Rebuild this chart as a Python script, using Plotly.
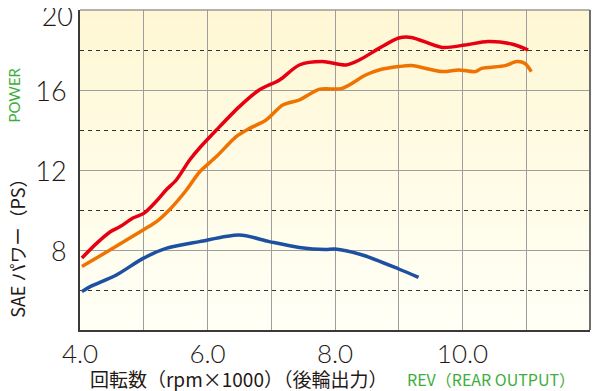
import plotly.graph_objects as go

# RPM (x1000) and SAE power (PS)
red_x = [4.03, 4.26, 4.47, 4.63, 4.83, 5.0, 5.2, 5.35, 5.51, 5.72, 5.875, 6.14, 6.5, 6.81, 7.13, 7.44, 7.8, 8.17, 8.38, 8.69, 9.0, 9.2, 9.68, 10.04, 10.4, 10.77, 11.03]
red_y = [7.6, 8.33, 8.9, 9.17, 9.6, 9.83, 10.45, 11.0, 11.5, 12.5, 13.1, 14.0, 15.17, 16.0, 16.5, 17.25, 17.42, 17.25, 17.5, 18.08, 18.6, 18.63, 18.13, 18.25, 18.42, 18.3, 18.0]

orange_x = [4.03, 4.47, 4.99, 5.2, 5.4, 5.67, 5.875, 6.14, 6.45, 6.66, 6.92, 7.18, 7.44, 7.75, 8.11, 8.48, 8.69, 9.0, 9.2, 9.68, 9.94, 10.2, 10.3, 10.67, 10.85, 10.98, 11.08]
orange_y = [7.17, 8.0, 9.0, 9.42, 10.0, 11.0, 11.9, 12.67, 13.67, 14.08, 14.5, 15.25, 15.5, 16.03, 16.08, 16.75, 17.0, 17.17, 17.22, 16.92, 17.0, 16.92, 17.08, 17.22, 17.42, 17.33, 16.92]

blue_x = [4.03, 4.16, 4.57, 4.99, 5.35, 5.875, 6.5, 6.97, 7.44, 7.85, 8.0, 8.43, 9.0, 9.31]
blue_y = [5.92, 6.17, 6.75, 7.58, 8.08, 8.42, 8.75, 8.42, 8.13, 8.03, 8.05, 7.75, 7.05, 6.63]

x_tickvals = [4, 6, 8, 10]
x_ticktext = ["4.0", "6.0", "8.0", "10.0"]
y_tickvals = [8, 12, 16]
y_ticktext = ["8", "12", "16"]
y_top_tickvals = [20]
y_top_ticktext = ["20"]

TXT = "#231815"
GREEN = "#3DAE3A"
FONT = "Lato"
JP = "Noto Sans CJK JP"

fig = go.Figure()
for xs, ys, col, ya in [(blue_x, blue_y, "#1E50A2", "y"), (orange_x, orange_y, "#EF7300", "y"),
                        (red_x, red_y, "#E60012", "y2")]:
    fig.add_trace(go.Scatter(x=xs, y=ys, mode="lines", yaxis=ya,
                             line=dict(color=col, width=3.5, shape="spline", smoothing=0.8),
                             showlegend=False, hoverinfo="skip"))

# background gradient (light yellow top -> near white bottom)
n = 40
shapes = []
top = (255, 247, 212)
bot = (255, 255, 246)
for i in range(n):
    t = i / (n - 1)
    c = tuple(round(top[k] + (bot[k] - top[k]) * t) for k in range(3))
    shapes.append(dict(type="rect", xref="x domain", yref="y domain",
                       x0=0, x1=1, y0=1 - (i + 1) / n, y1=1 - i / n + 0.002,
                       fillcolor="rgb(%d,%d,%d)" % c, line=dict(width=0), layer="below"))
# borders
shapes.append(dict(type="line", xref="x domain", yref="y domain", x0=0, x1=1, y0=1, y1=1,
                   line=dict(color="#9a9a9a", width=1.5), layer="above"))
shapes.append(dict(type="line", xref="x domain", yref="y domain", x0=1, x1=1, y0=0, y1=1,
                   line=dict(color="#6e6e6e", width=2), layer="above"))

tickfont = dict(family=FONT, size=27, color=TXT, weight=300)

# page body has an 8px margin: figure sized to fill the rest of the 600x391 window
fig.update_layout(
    width=592, height=383,
    margin=dict(l=72, r=10, t=2, b=61),
    paper_bgcolor="white", plot_bgcolor="white",
    shapes=shapes,
    xaxis=dict(range=[4, 12], tickvals=x_tickvals, ticktext=x_ticktext, automargin=False,
               showgrid=True, gridcolor="#9e9e9e", gridwidth=1.2,
               minor=dict(dtick=1, tick0=4, showgrid=True, gridcolor="#9e9e9e", gridwidth=1.2),
               showline=True, linecolor="#3a3a3a", linewidth=2, zeroline=False,
               ticks="", tickfont=dict(family=FONT, size=26, color=TXT, weight=300),
               ticklabelstandoff=0, ticklabeloverflow="allow"),
    yaxis=dict(range=[4, 20], tickvals=y_tickvals, ticktext=y_ticktext, automargin=False,
               showgrid=True, gridcolor="#9e9e9e", gridwidth=1.2,
               minor=dict(dtick=2, tick0=4, showgrid=True, gridcolor="#333333", gridwidth=1,
                          griddash="4px,4px"),
               showline=True, linecolor="#3a3a3a", linewidth=2, zeroline=False,
               ticks="", tickfont=tickfont, ticklabelshift=2,
               ticklabelstandoff=6, ticklabeloverflow="allow"),
    yaxis2=dict(range=[4, 20], tickvals=y_top_tickvals, ticktext=y_top_ticktext, automargin=False,
                overlaying="y", side="left", showgrid=False, zeroline=False, showline=False,
                ticks="", tickfont=tickfont, ticklabelshift=7,
                ticklabelstandoff=6, ticklabeloverflow="allow"),
    annotations=[
        dict(text="SAE パワー（PS）", xref="paper", yref="paper", x=-0.125, y=0.27,
             showarrow=False, textangle=-90, xanchor="center", yanchor="middle",
             font=dict(family=JP, size=18, color=TXT)),
        dict(text="POWER", xref="paper", yref="paper", x=-0.13, y=0.735,
             showarrow=False, textangle=-90, xanchor="center", yanchor="middle",
             font=dict(family=FONT, size=15, color=GREEN)),
        dict(text="回転数（rpm×1000）（後輪出力）", xref="paper", yref="paper", x=0.015, y=-0.152,
             showarrow=False, xanchor="left", yanchor="middle",
             font=dict(family=JP, size=19, color=TXT)),
        dict(text="REV（REAR OUTPUT）", xref="paper", yref="paper", x=0.975, y=-0.152,
             showarrow=False, xanchor="right", yanchor="middle",
             font=dict(family=JP, size=16, color=GREEN)),
    ],
)

fig.write_html("out.html")
